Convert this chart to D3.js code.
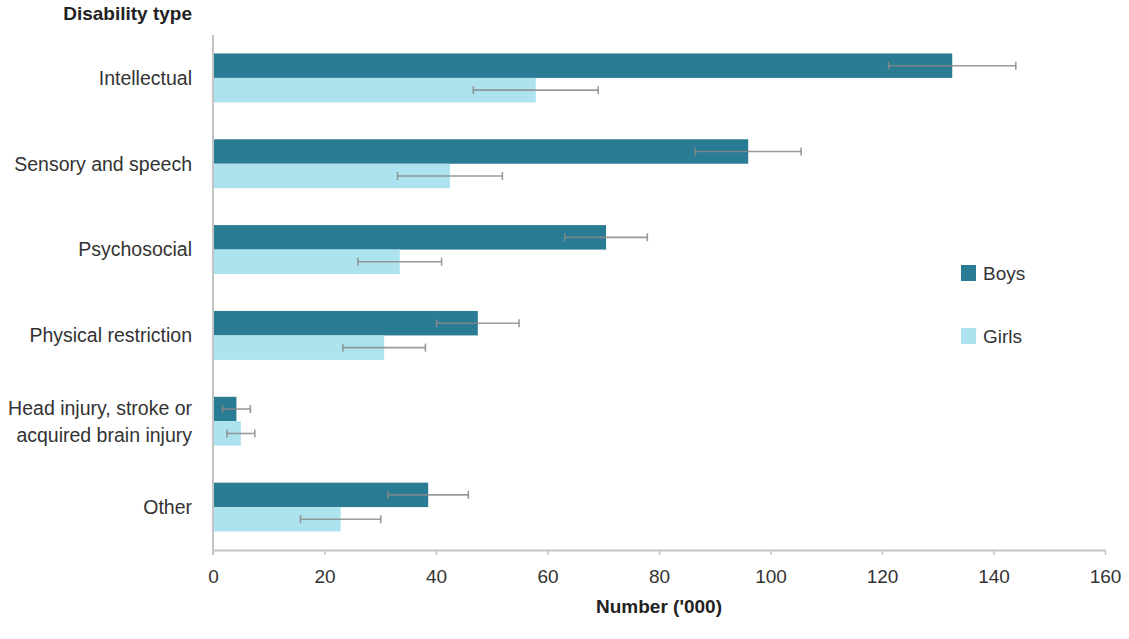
<!doctype html>
<html>
  <head>
    <meta charset="utf-8">
    <title>Disability type by sex</title>
    <script src="https://cdnjs.cloudflare.com/ajax/libs/d3/7.8.5/d3.min.js"></script>
    <style>
      body { margin: 0; background: #fff; }
      text { font-family: "Liberation Sans", Arial, sans-serif; fill: #333; }
    </style>
  </head>
  <body>
    <div id="chart"></div>
    <script>
      // data (thousands)
      const categories = ['Intellectual', 'Sensory and speech', 'Psychosocial',
                          'Physical restriction', 'Head injury, stroke or\nacquired brain injury', 'Other'];
      const series = ['Boys', 'Girls'];
      const boys = [132.6, 96.0, 70.5, 47.5, 4.2, 38.6];
      const boysErr = [11.4, 9.5, 7.4, 7.4, 2.5, 7.2];
      const girls = [57.9, 42.5, 33.5, 30.7, 5.0, 22.9];
      const girlsErr = [11.2, 9.4, 7.5, 7.4, 2.5, 7.2];
      const xTicks = [0, 20, 40, 60, 80, 100, 120, 140, 160];

      const colors = { Boys: '#2a7b94', Girls: '#ade3ef' };

      const width = 1129, height = 639;
      const margin = { top: 35, left: 213, right: 24, bottom: 89 };

      const svg = d3.select('#chart').append('svg')
        .attr('width', width)
        .attr('height', height);

      const x = d3.scaleLinear().domain([0, 160]).range([margin.left, width - margin.right]);
      const y = d3.scaleBand().domain(categories).range([margin.top, height - margin.bottom]).paddingInner(0.43).paddingOuter(0.215);
      const ySub = d3.scaleBand().domain(series).range([0, y.bandwidth()]);

      const rows = categories.map((c, i) => ({
        cat: c,
        vals: [
          { s: 'Boys', v: boys[i], e: boysErr[i] },
          { s: 'Girls', v: girls[i], e: girlsErr[i] }
        ]
      }));

      const groups = svg.selectAll('g.row')
        .data(rows)
        .join('g')
        .attr('class', 'row')
        .attr('transform', d => `translate(0,${y(d.cat)})`);

      groups.selectAll('rect')
        .data(d => d.vals)
        .join('rect')
        .attr('x', x(0))
        .attr('y', d => ySub(d.s))
        .attr('width', d => x(d.v) - x(0))
        .attr('height', ySub.bandwidth())
        .style('fill', d => colors[d.s]);

      // error bars
      const err = groups.selectAll('g.err')
        .data(d => d.vals)
        .join('g')
        .attr('class', 'err')
        .attr('transform', d => `translate(0,${ySub(d.s) + ySub.bandwidth() / 2})`)
        .style('stroke', '#8a8a8a')
        .style('stroke-opacity', 0.85)
        .style('stroke-width', 1.6);

      err.append('line')
        .attr('x1', d => x(d.v - d.e)).attr('x2', d => x(d.v + d.e))
        .attr('y1', 0).attr('y2', 0);
      err.append('line')
        .attr('x1', d => x(d.v - d.e)).attr('x2', d => x(d.v - d.e))
        .attr('y1', -4).attr('y2', 4);
      err.append('line')
        .attr('x1', d => x(d.v + d.e)).attr('x2', d => x(d.v + d.e))
        .attr('y1', -4).attr('y2', 4);

      // x axis
      const xAxis = svg.append('g')
        .attr('transform', `translate(0,${height - margin.bottom})`)
        .call(d3.axisBottom(x).tickValues(xTicks).tickSize(5).tickSizeOuter(0).tickPadding(15));
      xAxis.select('.domain').style('stroke', '#c4c4c4').style('stroke-width', 2);
      xAxis.selectAll('.tick line').style('stroke', '#c4c4c4').style('stroke-width', 1.5);
      xAxis.selectAll('.tick text')
        .style('font-size', '19px')
        .style('fill', '#333')
        .style('font-family', '"Liberation Sans", Arial, sans-serif');

      // y axis line
      svg.append('line')
        .attr('x1', x(0)).attr('x2', x(0))
        .attr('y1', margin.top).attr('y2', height - margin.bottom + 5)
        .style('stroke', '#c4c4c4').style('stroke-width', 2);

      // y labels
      const lab = svg.selectAll('text.cat')
        .data(categories)
        .join('text')
        .attr('class', 'cat')
        .attr('text-anchor', 'end')
        .style('font-size', '19.5px')
        .attr('transform', d => `translate(192,${y(d) + y.bandwidth() / 2})`);
      lab.each(function (d) {
        const lines = d.split('\n');
        const t = d3.select(this);
        lines.forEach((l, j) => {
          t.append('tspan')
            .attr('x', 0)
            .attr('y', (j - (lines.length - 1) / 2) * 27)
            .attr('dy', '0.35em')
            .text(l);
        });
      });

      // titles
      svg.append('text')
        .attr('x', 192).attr('y', 20)
        .attr('text-anchor', 'end')
        .style('font-size', '19px').style('font-weight', 'bold').style('fill', '#222')
        .text('Disability type');

      svg.append('text')
        .attr('x', (x(0) + x(160)) / 2).attr('y', 613)
        .attr('text-anchor', 'middle')
        .style('font-size', '19px').style('font-weight', 'bold').style('fill', '#222')
        .text("Number  ('000)");

      // legend
      const legend = svg.selectAll('g.legend')
        .data(series)
        .join('g')
        .attr('class', 'legend')
        .attr('transform', (d, i) => `translate(961,${273 + i * 63})`);
      legend.append('rect')
        .attr('x', 0).attr('y', -8)
        .attr('width', 15).attr('height', 16)
        .style('fill', d => colors[d]);
      legend.append('text')
        .attr('x', 22).attr('y', 0).attr('dy', '0.35em')
        .style('font-size', '19px')
        .text(d => d);
    </script>
  </body>
</html>
